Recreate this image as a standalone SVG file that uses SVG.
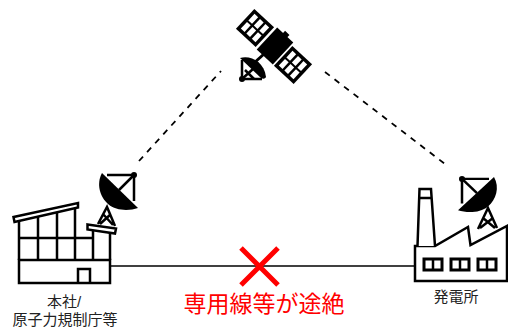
<svg xmlns="http://www.w3.org/2000/svg" width="508" height="327" viewBox="0 0 508 327">
<style>
.l{fill:none;stroke:#000;stroke-width:2.5;stroke-linejoin:miter}
.w{fill:#fff;stroke:#000;stroke-width:2.5}
.t{font-family:"Liberation Sans","Noto Sans CJK JP",sans-serif;font-size:15px;fill:#222;text-anchor:middle}
.d{fill:none;stroke:#000;stroke-width:1.8;stroke-dasharray:6 6}
</style>
<defs>
<g id="dish">
<path d="M1 0L37 35C28 38 15 38 7 31C-1 24 -5 11 1 0Z" fill="#000"/>
<path d="M6 2H33V28" class="l"/>
<path d="M18 17L33 2" class="l"/>
<circle cx="33" cy="2" r="3"/>
</g>
<g id="panel">
<rect x="-13.500" y="-13.500" width="27" height="27" fill="#000"/>
<g fill="#fff">
<rect x="-10" y="-10" width="9" height="5"/><rect x="1" y="-10" width="9" height="5"/>
<rect x="-10" y="-2.500" width="9" height="5"/><rect x="1" y="-2.500" width="9" height="5"/>
<rect x="-10" y="5" width="9" height="5"/><rect x="1" y="5" width="9" height="5"/>
</g>
</g>
</defs>
<g id="connectors">
<line x1="110" y1="266" x2="415" y2="266" stroke="#000" stroke-width="1.500"/>
<line class="d" x1="139" y1="161" x2="221" y2="71"/>
<line class="d" x1="325" y1="72" x2="445" y2="164"/>
</g>
<g id="cross">
<path d="M241 248L278 285M278 248L241 285" stroke="#f00" stroke-width="5" fill="none"/>
<text x="264" y="312" font-family="'Liberation Sans','Noto Sans CJK JP',sans-serif" font-size="23" fill="#f00" text-anchor="middle">専用線等が途絶</text>
</g>
<g id="satellite">
<g transform="translate(255,28) rotate(133)"><use href="#panel"/></g>
<g transform="translate(293,65) rotate(133)"><use href="#panel"/></g>
<g transform="translate(275,46) rotate(43)"><rect x="-11" y="-15" width="22" height="30"/><rect x="-3" y="-18" width="6" height="5"/></g>
<line x1="264" y1="54" x2="254" y2="63" stroke="#000" stroke-width="3"/>
<path d="M240 58C250 55 264 61 266 77C265 79 263 79 261 78Z"/>
<path d="M242 60V79H262" class="l" stroke-width="3"/>
<path d="M242 79L253 69M245 70L254 79" class="l"/>
<circle cx="242" cy="79" r="3"/>
</g>
<g id="hq">
<rect class="w" x="19" y="260" width="91" height="23"/>
<path class="l" d="M78 283V269H90V283"/>
<path class="l" d="M19 260V220M38 260V216M57 260V211M75 260V207M93 260V230M110 260V232M19 238H93"/>
<path class="w" d="M13.500 217L78 203V207.500L14.500 222Z"/>
<path class="l" d="M98 224L107 207L115 226M103 214L113 225M111 214L100 224"/>
<path class="w" d="M87.500 224.500L116 228.500L115 233.500L87.500 229.500Z"/>
<g transform="translate(101,173)"><use href="#dish"/></g>
<text class="t" x="64" y="307">本社/</text>
<text class="t" x="65" y="325">原子力規制庁等</text>
</g>
<g id="plant">
<path class="l" d="M478 229L488 208L497 228M483 218L495 228M493 218L480 228"/>
<path class="w" d="M415 281V246L435 246L468 227L470.500 245L507 226V281Z"/>
<path class="w" d="M417.500 246L419.500 189H431L435 246"/>
<line x1="419" y1="198" x2="432" y2="198" class="l"/>
<g fill="#fff" stroke="#000" stroke-width="3">
<rect x="424" y="259" width="18" height="11"/><rect x="451" y="259" width="18" height="11"/><rect x="478" y="259" width="18" height="11"/>
</g>
<path class="l" d="M433 259V270M460 259V270M487 259V270"/>
<g transform="matrix(-1 0 0 0.95 495 177)"><use href="#dish"/></g>
<text class="t" x="456" y="302">発電所</text>
</g>
</svg>
